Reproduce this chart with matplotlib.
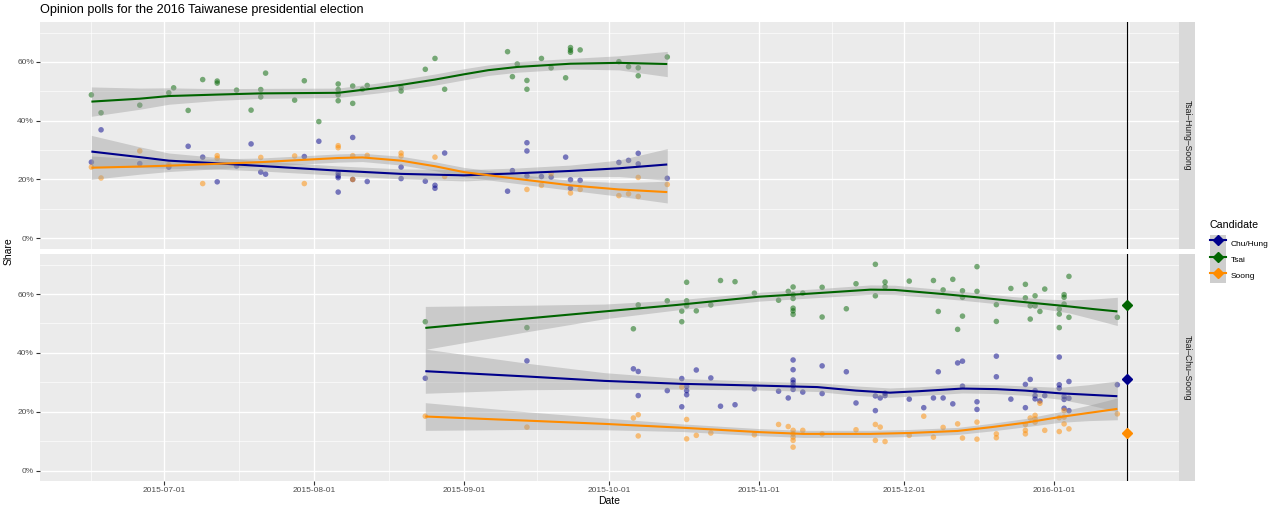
import numpy as np
import pandas as pd
import matplotlib
matplotlib.use("Agg")
import matplotlib.pyplot as plt
import matplotlib.dates as mdates
from matplotlib.lines import Line2D
from matplotlib.patches import Patch
from matplotlib.legend_handler import HandlerTuple
from matplotlib.ticker import FixedLocator, FuncFormatter

plt.rcParams['font.family'] = ['Liberation Sans', 'DejaVu Sans']

# ---------------- data ----------------
candidates = ["Chu/Hung", "Tsai", "Soong"]
cand_colors = ["#00008B", "#006400", "#FF8C00"]
facet_labels = ["Tsai\u2013Hung\u2013Soong", "Tsai\u2013Chu\u2013Soong"]
title = "Opinion polls for the 2016 Taiwanese presidential election"

# Facet 1: Tsai-Hung-Soong polls (date, share %)
top_tsai = [("2015-06-16",48.8),("2015-06-18",42.7),("2015-06-26",45.3),("2015-07-02",49.5),("2015-07-03",51.2),
            ("2015-07-06",43.5),("2015-07-09",54.0),("2015-07-12",53.5),("2015-07-12",52.8),("2015-07-16",50.4),
            ("2015-07-19",43.6),("2015-07-21",50.6),("2015-07-21",48.1),("2015-07-22",56.2),("2015-07-28",47.0),
            ("2015-07-30",53.6),("2015-08-02",39.7),("2015-08-06",52.5),("2015-08-06",50.6),("2015-08-06",48.8),
            ("2015-08-06",46.8),("2015-08-09",51.8),("2015-08-09",45.9),("2015-08-11",50.7),("2015-08-12",52.0),
            ("2015-08-19",51.3),("2015-08-19",50.1),("2015-08-24",57.5),("2015-08-26",61.2),("2015-08-28",50.7),
            ("2015-09-10",63.5),("2015-09-11",55.0),("2015-09-12",59.3),("2015-09-14",53.7),("2015-09-14",50.7),
            ("2015-09-17",61.2),("2015-09-19",58.0),("2015-09-22",54.6),("2015-09-23",64.9),("2015-09-23",64.0),
            ("2015-09-23",63.3),("2015-09-25",64.1),("2015-10-03",60.1),("2015-10-05",58.4),("2015-10-07",58.0),
            ("2015-10-07",55.3),("2015-10-13",61.7)]
top_chu = [("2015-06-16",25.9),("2015-06-18",36.9),("2015-06-26",25.4),("2015-07-02",24.2),("2015-07-06",31.3),
           ("2015-07-09",27.6),("2015-07-12",19.2),("2015-07-16",24.6),("2015-07-19",32.1),("2015-07-21",22.5),
           ("2015-07-22",21.8),("2015-07-30",27.8),("2015-08-02",33.0),("2015-08-06",22.1),("2015-08-06",21.2),
           ("2015-08-06",20.6),("2015-08-06",15.7),("2015-08-09",34.3),("2015-08-09",20.0),("2015-08-12",19.3),
           ("2015-08-19",24.2),("2015-08-19",20.3),("2015-08-24",19.4),("2015-08-26",18.0),("2015-08-26",17.0),
           ("2015-08-28",29.0),("2015-09-10",16.0),("2015-09-11",23.0),("2015-09-14",32.5),("2015-09-14",29.7),
           ("2015-09-14",21.2),("2015-09-17",21.0),("2015-09-19",20.8),("2015-09-22",27.6),("2015-09-23",19.9),
           ("2015-09-23",17.0),("2015-09-25",19.7),("2015-10-03",25.8),("2015-10-05",26.5),("2015-10-07",28.9),
           ("2015-10-07",25.3),("2015-10-13",20.4)]
top_soong = [("2015-06-16",24.2),("2015-06-18",20.5),("2015-06-26",29.7),("2015-07-02",25.0),("2015-07-09",18.6),
             ("2015-07-12",28.1),("2015-07-12",27.2),("2015-07-21",27.5),("2015-07-28",28.0),("2015-07-30",18.6),
             ("2015-08-06",31.5),("2015-08-06",30.8),("2015-08-09",28.1),("2015-08-09",20.0),("2015-08-12",28.2),
             ("2015-08-19",29.0),("2015-08-19",28.0),("2015-08-26",27.6),("2015-08-28",21.0),("2015-09-14",16.6),
             ("2015-09-17",18.0),("2015-09-19",22.0),("2015-09-23",15.4),("2015-09-25",16.6),("2015-10-03",14.5),
             ("2015-10-05",15.1),("2015-10-07",20.7),("2015-10-07",14.2),("2015-10-13",18.3)]

# Facet 2: Tsai-Chu-Soong polls
bot_tsai = [("2015-08-24",50.6),("2015-09-14",48.6),("2015-10-06",48.2),("2015-10-07",56.3),("2015-10-13",57.7),
            ("2015-10-16",54.2),("2015-10-16",50.6),("2015-10-17",64.0),("2015-10-17",57.7),("2015-10-17",56.0),
            ("2015-10-19",54.3),("2015-10-22",56.3),("2015-10-24",64.6),("2015-10-27",64.2),("2015-10-31",60.3),
            ("2015-11-05",57.9),("2015-11-07",60.9),("2015-11-08",62.4),("2015-11-08",59.8),("2015-11-08",58.5),
            ("2015-11-08",55.2),("2015-11-08",54.3),("2015-11-08",53.1),("2015-11-10",60.3),("2015-11-14",62.3),
            ("2015-11-14",52.2),("2015-11-19",55.0),("2015-11-21",63.5),("2015-11-25",70.1),("2015-11-25",59.4),
            ("2015-11-27",64.1),("2015-11-27",62.5),("2015-12-02",64.4),("2015-12-07",64.6),("2015-12-08",54.1),
            ("2015-12-09",61.4),("2015-12-11",65.0),("2015-12-12",48.0),("2015-12-13",61.1),("2015-12-13",58.9),
            ("2015-12-13",52.5),("2015-12-16",69.3),("2015-12-16",60.9),("2015-12-20",56.4),("2015-12-20",50.7),
            ("2015-12-23",61.9),("2015-12-26",63.3),("2015-12-26",58.7),("2015-12-27",56.0),("2015-12-27",51.5),
            ("2015-12-28",59.4),("2015-12-28",56.0),("2015-12-29",54.1),("2015-12-30",61.7),("2016-01-02",54.9),
            ("2016-01-02",53.2),("2016-01-02",48.6),("2016-01-03",59.8),("2016-01-03",58.9),("2016-01-03",56.6),
            ("2016-01-04",66.0),("2016-01-04",52.1),("2016-01-14",52.1)]
bot_chu = [("2015-08-24",31.4),("2015-09-14",37.3),("2015-10-06",34.6),("2015-10-07",33.7),("2015-10-07",25.5),
           ("2015-10-13",27.2),("2015-10-16",31.3),("2015-10-16",21.7),("2015-10-17",28.6),("2015-10-17",27.2),
           ("2015-10-17",25.8),("2015-10-19",34.2),("2015-10-22",31.5),("2015-10-24",21.9),("2015-10-27",22.4),
           ("2015-10-31",27.8),("2015-11-05",27.0),("2015-11-07",24.7),("2015-11-08",37.6),("2015-11-08",34.3),
           ("2015-11-08",30.8),("2015-11-08",29.9),("2015-11-08",28.9),("2015-11-08",27.6),("2015-11-10",26.7),
           ("2015-11-14",35.6),("2015-11-14",26.2),("2015-11-19",33.6),("2015-11-21",23.0),("2015-11-25",25.4),
           ("2015-11-25",20.4),("2015-11-26",24.7),("2015-11-27",26.3),("2015-11-27",25.5),("2015-12-02",24.3),
           ("2015-12-05",21.4),("2015-12-07",24.7),("2015-12-08",33.6),("2015-12-09",24.7),("2015-12-11",22.7),
           ("2015-12-12",36.6),("2015-12-13",37.2),("2015-12-13",28.7),("2015-12-16",23.4),("2015-12-16",20.8),
           ("2015-12-20",38.9),("2015-12-20",31.9),("2015-12-23",24.3),("2015-12-26",29.3),("2015-12-26",21.4),
           ("2015-12-27",31.0),("2015-12-28",27.2),("2015-12-28",25.5),("2015-12-28",24.4),("2015-12-29",23.7),
           ("2015-12-30",25.5),("2016-01-02",38.6),("2016-01-02",29.2),("2016-01-02",28.0),("2016-01-03",25.2),
           ("2016-01-03",24.2),("2016-01-03",21.2),("2016-01-04",30.3),("2016-01-04",24.6),("2016-01-04",20.4),
           ("2016-01-14",29.2)]
bot_soong = [("2015-08-24",18.5),("2015-09-14",14.8),("2015-10-06",17.9),("2015-10-07",19.0),("2015-10-07",11.8),
             ("2015-10-16",28.4),("2015-10-17",17.4),("2015-10-17",10.8),("2015-10-19",12.0),("2015-10-22",12.8),
             ("2015-10-31",12.2),("2015-11-05",15.7),("2015-11-07",15.0),("2015-11-08",13.7),("2015-11-08",12.5),
             ("2015-11-08",11.4),("2015-11-08",10.3),("2015-11-08",8.0),("2015-11-10",13.7),("2015-11-14",12.5),
             ("2015-11-21",13.9),("2015-11-25",15.7),("2015-11-25",10.3),("2015-11-26",14.8),("2015-11-27",9.9),
             ("2015-12-02",12.0),("2015-12-05",18.5),("2015-12-07",11.4),("2015-12-09",14.7),("2015-12-12",15.9),
             ("2015-12-13",11.1),("2015-12-16",16.5),("2015-12-16",10.7),("2015-12-20",12.5),("2015-12-20",11.2),
             ("2015-12-26",15.7),("2015-12-26",13.7),("2015-12-26",12.5),("2015-12-27",17.9),("2015-12-28",18.8),
             ("2015-12-28",17.6),("2015-12-28",16.5),("2015-12-29",22.9),("2015-12-30",13.7),("2016-01-02",18.0),
             ("2016-01-02",13.3),("2016-01-03",20.4),("2016-01-03",18.2),("2016-01-03",15.9),("2016-01-04",14.2),
             ("2016-01-14",19.3)]

# Smoothed trends: (date, fit %, half-width of confidence band %)
top_tsai_fit = [("2015-06-16",46.5,5.0),("2015-06-26",47.5,3.6),("2015-07-02",48.4,2.8),("2015-07-12",48.9,2.0),
                ("2015-07-21",49.3,1.7),("2015-08-06",49.5,1.6),("2015-08-14",51.1,1.7),("2015-08-19",52.2,1.8),
                ("2015-08-26",54.0,1.9),("2015-09-01",55.8,1.9),("2015-09-06",57.2,1.8),("2015-09-12",58.3,1.8),
                ("2015-09-23",59.4,1.8),("2015-10-03",59.7,2.4),("2015-10-13",59.3,4.3)]
top_chu_fit = [("2015-06-16",29.5,5.5),("2015-06-26",27.6,3.5),("2015-07-02",26.4,2.6),("2015-07-12",25.5,2.0),
               ("2015-07-21",24.6,1.7),("2015-08-06",23.0,1.6),("2015-08-19",21.9,1.7),("2015-09-01",21.4,1.9),
               ("2015-09-12",22.1,1.8),("2015-09-23",22.9,2.0),("2015-10-03",23.8,2.8),("2015-10-13",25.1,5.4)]
top_soong_fit = [("2015-06-16",24.0,4.0),("2015-06-26",24.4,2.6),("2015-07-02",24.7,2.0),("2015-07-21",25.9,1.4),
                 ("2015-08-06",27.3,1.4),("2015-08-11",27.5,1.4),("2015-08-19",26.4,1.5),("2015-08-26",24.5,1.5),
                 ("2015-09-01",22.5,1.6),("2015-09-12",20.2,1.6),("2015-09-23",18.0,1.7),("2015-10-03",16.6,2.3),
                 ("2015-10-13",15.7,3.7)]
bot_tsai_fit = [("2015-08-24",48.5,7.3),("2015-09-14",51.7,4.5),("2015-09-30",54.1,2.5),("2015-10-15",56.3,1.7),
                ("2015-11-01",59.1,1.5),("2015-11-12",60.2,1.5),("2015-11-24",61.5,1.6),("2015-11-29",61.4,1.6),
                ("2015-12-09",60.0,1.5),("2015-12-16",58.9,1.5),("2015-12-23",57.7,1.5),("2015-12-30",56.6,1.7),
                ("2016-01-04",55.8,2.2),("2016-01-09",54.9,3.4),("2016-01-14",54.1,4.8)]
bot_chu_fit = [("2015-08-24",33.8,7.5),("2015-09-14",32.0,4.5),("2015-09-30",30.5,2.8),("2015-10-16",29.5,1.8),
               ("2015-11-01",28.9,1.5),("2015-11-13",28.4,1.5),("2015-11-21",27.2,1.6),("2015-11-28",26.5,1.6),
               ("2015-12-04",27.0,1.5),("2015-12-13",27.9,1.5),("2015-12-20",27.7,1.5),("2015-12-26",27.2,1.6),
               ("2016-01-02",26.3,2.0),("2016-01-08",25.8,3.4),("2016-01-14",25.3,5.2)]
bot_soong_fit = [("2015-08-24",18.4,4.7),("2015-09-14",17.0,3.0),("2015-09-30",15.9,2.0),("2015-10-16",14.6,1.3),
                 ("2015-11-01",13.1,1.2),("2015-11-10",12.5,1.2),("2015-11-24",12.5,1.2),("2015-12-02",12.8,1.2),
                 ("2015-12-12",13.5,1.2),("2015-12-19",14.8,1.3),("2015-12-26",16.3,1.4),("2016-01-02",18.2,1.8),
                 ("2016-01-08",19.6,2.6),("2016-01-14",21.0,3.7)]

election_date = "2016-01-16"
election_result = [31.04, 56.12, 12.84]   # Chu/Hung, Tsai, Soong

facet_points = [[top_chu, top_tsai, top_soong], [bot_chu, bot_tsai, bot_soong]]
facet_fits = [[top_chu_fit, top_tsai_fit, top_soong_fit], [bot_chu_fit, bot_tsai_fit, bot_soong_fit]]

# ---------------- figure ----------------
W, H = 1280, 512
fig = plt.figure(figsize=(W / 100, H / 100), dpi=100)
fig.patch.set_facecolor("white")

def fbox(x0, y0, x1, y1):
    return [x0 / W, 1 - y1 / H, (x1 - x0) / W, (y1 - y0) / H]

PL, PR = 39.6, 1178.8
panel_rows = [(22, 248.5), (254, 481)]
axes = []
strips = []
for i, (t, b) in enumerate(panel_rows):
    ax = fig.add_axes(fbox(PL, t, PR, b), sharex=axes[0] if axes else None,
                      sharey=axes[0] if axes else None)
    axes.append(ax)
    st = fig.add_axes(fbox(PR, t, PR + 16.2, b))
    strips.append(st)

# scale limits (ggplot-like 5% expansion, y includes 0)
all_dates = [pd.Timestamp(d) for grp in facet_points for s in grp for d, _ in s] + [pd.Timestamp(election_date)]
dmin, dmax = min(all_dates), max(all_dates)
span = dmax - dmin
xlim = (dmin - 0.05 * span, dmax + 0.05 * span)
all_vals = [v for grp in facet_points for s in grp for _, v in s] + [0.0]
ymin, ymax = min(all_vals), max(all_vals)
yr = ymax - ymin
ylim = (ymin - 0.05 * yr, ymax + 0.05 * yr)

major_dates = pd.date_range("2015-06-01", "2016-02-01", freq="MS")
major_nums = mdates.date2num(major_dates.to_pydatetime())
minor_nums = (major_nums[:-1] + major_nums[1:]) / 2.0

election_ts = pd.Timestamp(election_date)

for i, ax in enumerate(axes):
    ax.set_facecolor("#EBEBEB")
    for sp in ax.spines.values():
        sp.set_visible(False)
    for ci, cand in enumerate(candidates):
        col = cand_colors[ci]
        pts = facet_points[i][ci]
        px = pd.to_datetime([d for d, _ in pts])
        py = np.array([v for _, v in pts])
        ax.scatter(px, py, s=16, color=col, alpha=0.5, edgecolors="none", zorder=2)
    for ci, cand in enumerate(candidates):
        col = cand_colors[ci]
        fit = facet_fits[i][ci]
        fx = pd.to_datetime([d for d, _, _ in fit])
        fy = np.array([v for _, v, _ in fit])
        fh = np.array([h for _, _, h in fit])
        ax.fill_between(fx, fy - fh, fy + fh, color="#999999", alpha=0.4, lw=0, zorder=3)
        ax.plot(fx, fy, color=col, lw=1.5, zorder=4, solid_capstyle="butt")
    ax.axvline(election_ts, color="black", lw=0.8, zorder=5)
    if i == 1:
        for ci in range(3):
            ax.plot([election_ts], [election_result[ci]], marker="D", markersize=5,
                    color=cand_colors[ci], zorder=6, lw=0)

    ax.set_xlim(xlim)
    ax.set_ylim(ylim)
    ax.xaxis.set_major_locator(FixedLocator(major_nums))
    ax.xaxis.set_minor_locator(FixedLocator(minor_nums))
    ax.xaxis.set_major_formatter(mdates.DateFormatter("%Y-%m-%d"))
    ax.yaxis.set_major_locator(FixedLocator([0, 20, 40, 60]))
    ax.yaxis.set_minor_locator(FixedLocator([10, 30, 50, 70]))
    ax.yaxis.set_major_formatter(FuncFormatter(lambda v, p: f"{v:.0f}%"))
    ax.grid(True, which="major", color="white", lw=0.95)
    ax.grid(True, which="minor", color="white", lw=0.45)
    ax.set_axisbelow(True)
    ax.tick_params(which="major", length=2.6, width=0.8, color="#333333",
                   labelsize=6, labelcolor="#4D4D4D", pad=1.5)
    ax.tick_params(which="minor", length=0)
    if i == 0:
        ax.tick_params(axis="x", which="both", length=0, labelbottom=False)

for st, lab in zip(strips, facet_labels):
    st.set_facecolor("#D9D9D9")
    for sp in st.spines.values():
        sp.set_visible(False)
    st.set_xticks([])
    st.set_yticks([])
    st.text(0.5, 0.5, lab, rotation=270, ha="center", va="center",
            fontsize=6.2, color="#1A1A1A", transform=st.transAxes)

fig.text(PL / W, 1 - 10.5 / H, title, fontsize=9.1, ha="left", va="center", color="black")
fig.text(8.5 / W, 1 - 251.5 / H, "Share", rotation=90, fontsize=7.5, ha="center", va="center")
fig.text((PL + PR) / 2 / W, 1 - 500.5 / H, "Date", fontsize=7.5, ha="center", va="center")

handles = [(Patch(facecolor="#CECECE", edgecolor="none"),
            Line2D([], [], color=c, lw=1.5, marker="D", markersize=5)) for c in cand_colors]
leg = fig.legend(handles, candidates, loc="upper left", bbox_to_anchor=(1208 / W, 1 - 218 / H),
                 frameon=False, fontsize=6, title="Candidate", title_fontsize=7.7,
                 handler_map={tuple: HandlerTuple(ndivide=1)},
                 handlelength=1.95, handleheight=2.58, labelspacing=0.0, handletextpad=0.55,
                 borderpad=0.2, borderaxespad=0)
leg._legend_box.align = "left"
leg._legend_box.sep = 4

fig.savefig("out.png", dpi=100)
